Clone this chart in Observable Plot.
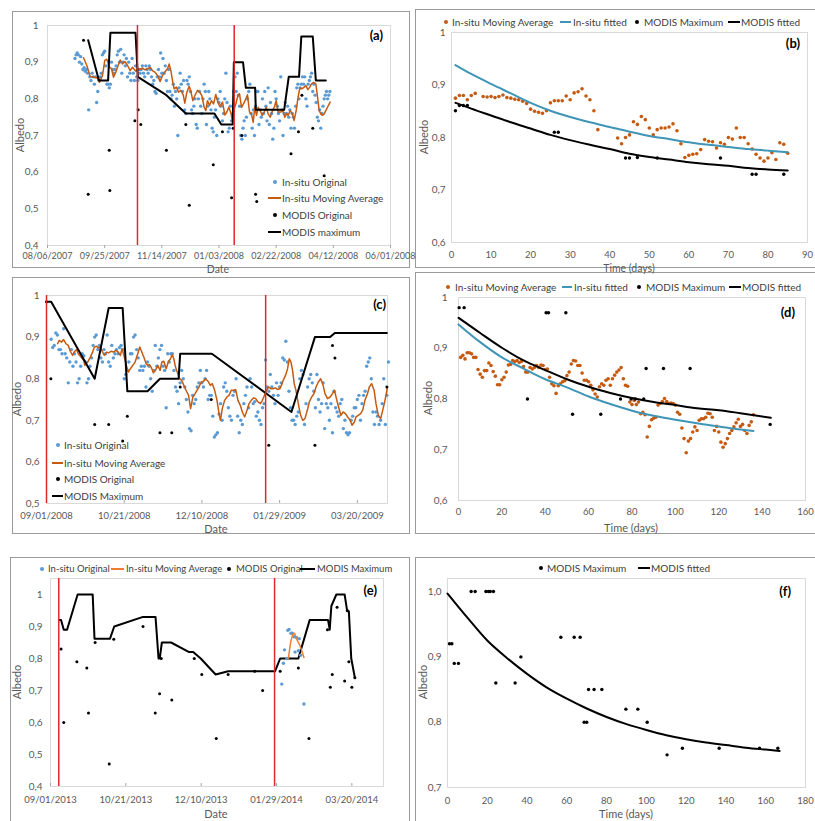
<!DOCTYPE html>
<html>
<head>
<meta charset="utf-8">
<script src="https://cdn.jsdelivr.net/npm/d3@7"></script>
<script src="https://cdn.jsdelivr.net/npm/@observablehq/plot@0.6"></script>
<style>
html,body{margin:0;padding:0;background:#fff;}
#root{position:relative;width:815px;height:821px;overflow:hidden;background:#fff;font-family:Lato,"Open Sans",sans-serif;}
.box{position:absolute;border:1px solid #9a9a9a;box-sizing:border-box;}
.abs{position:absolute;white-space:nowrap;}
.lt{font-size:10px;color:#404040;line-height:12px;transform:translateY(-50%);}
.tag{font-size:13px;font-weight:bold;color:#000;line-height:14px;transform:translate(-100%,-50%);}
.mdot{width:4px;height:4px;border-radius:50%;transform:translate(-50%,-50%);}
.mline{height:2px;transform:translateY(-50%);}
.ttl{font-size:11px;color:#595959;line-height:11px;transform:translate(-50%,-50%);}
.ttlv{font-size:11px;color:#595959;line-height:12px;transform:translate(-50%,-50%) rotate(-90deg);}
</style>
</head>
<body>
<div id="root"></div>
<script>
// ---------------- DATA ----------------
// Panel (a): 2007-2008 season, x in days after 08/06/2007
const aStart = "08/06/2007";
const aXTicks = ["08/06/2007","09/25/2007","11/14/2007","01/03/2008","02/22/2008","04/12/2008","06/01/2008"];
const aYTicks = [0.4,0.5,0.6,0.7,0.8,0.9,1];
const aRedDays = [78.7, 163.3];
const aInsituFirstDay = 24;
const aInsitu = [
.91,.92,.925,.92,.90,.915,.895,.88,.885,.875,
.88,.87,.77,.86,.85,.87,.86,.84,.86,.79,
.82,.85,.86,.87,.92,.925,.93,.89,.84,.84,
.83,.84,.90,.88,.87,.88,.89,.92,.93,.90,
.935,.87,.90,.92,.89,.91,.86,.90,.87,.85,
.91,.87,.85,.89,.86,.85,.88,.87,.88,.89,
.87,.86,.89,.88,.87,.89,.88,.86,.84,.85,
.82,.815,.86,.88,.86,.925,.87,.91,.87,.89,
.85,.82,.88,.82,.80,.81,.84,.78,.82,.80,
.70,.83,.87,.84,.82,.85,.77,.76,.85,.84,
.86,.82,.77,.76,.78,.80,.73,.72,.80,.82,
.78,.76,.80,.84,.82,.73,.78,.82,.80,.77,
.72,.71,.75,.77,.70,.80,.79,.82,.78,.74,
.76,.80,.87,.79,.71,.72,.78,.74,.76,.82,
.86,.82,.87,.81,.78,.70,.69,.72,.74,.70,
.75,.80,.82,.84,.76,.72,.77,.70,.78,.82,
.82,.73,.77,.75,.80,.76,.82,.78,.74,.83,
.73,.79,.76,.69,.72,.82,.80,.78,.76,.74,
.86,.77,.70,.76,.79,.76,.78,.75,.77,.72,
.76,.75,.72,.78,.83,.84,.80,.83,.84,.86,
.84,.86,.80,.78,.84,.85,.86,.87,.82,.84,
.81,.79,.75,.74,.77,.72,.76,.78,.80,.81,
.82,.80,.81,.82];
const aMovingAvg = [[31.5,.912],[34.4,.891],[37.3,.861],[40.8,.859],[43.7,.857],[45.5,.845],[48.1,.864],[50.1,.905],[51.9,.908],[53.9,.888],[56,.882],[57.7,.859],[59.8,.873],[61.2,.886],[63.6,.906],[65.6,.895],[67.6,.902],[70,.891],[72.3,.877],[74.3,.886],[77.3,.875],[79.3,.882],[81,.88],[83.1,.884],[85.1,.879],[87.5,.882],[89.8,.886],[91.8,.877],[93.9,.873],[96.2,.864],[98.5,.847],[100.6,.864],[102.6,.873],[105,.882],[106.4,.895],[107.9,.877],[109.6,.845],[110.8,.827],[112.8,.832],[114.6,.818],[116.6,.823],[118.7,.811],[120.1,.788],[121.9,.818],[123.9,.834],[125.4,.821],[127.1,.795],[128.9,.809],[131.2,.823],[133.2,.818],[135,.809],[137,.777],[138.5,.768],[139.9,.795],[141.7,.782],[143.4,.795],[145.2,.786],[147.2,.812],[149,.791],[150.7,.779],[153.1,.791],[155.1,.756],[156.9,.764],[158.6,.777],[160.3,.762],[161.8,.741],[163.3,.773],[164.7,.786],[166.2,.805],[167.9,.814],[169.7,.777],[171.4,.786],[173.5,.80],[174.9,.811],[176.7,.764],[178.4,.759],[179.9,.736],[181.3,.777],[182.8,.755],[184.3,.777],[186,.768],[187.8,.755],[189.5,.764],[191.3,.777],[193,.759],[194.8,.75],[196.8,.768],[198.3,.777],[200,.795],[201.7,.764],[204.1,.764],[205.8,.768],[207.6,.75],[209,.759],[210.5,.755],[212.2,.768],[214.3,.759],[215.7,.741],[217.5,.768],[219.2,.805],[220.7,.83],[222.4,.827],[224.5,.832],[226,.836],[227.7,.825],[229.4,.832],[230.9,.841],[232.7,.845],[234.7,.841],[236.2,.805],[237.6,.768],[239.1,.759],[240.5,.755],[242,.759],[243.4,.768],[244.9,.777],[247.2,.791]];
const aModisOriginal = [[31.5,.96],[35.6,.54],[54,.66],[54.5,.55],[76.4,.74],[79.3,.77],[81.6,.73],[104,.66],[121,.73],[124,.51],[145,.62],[153,.71],[161,.53],[162.4,.72],[170,.70],[182,.54],[183,.52],[213,.65],[219.5,.71],[222.5,.81],[232,.72],[242,.59]];
const aModisMax = [[35.6,.96],[45,.85],[53,.85],[55,.98],[77,.98],[79,.86],[104,.81],[121,.76],[146,.76],[152,.73],[162,.73],[163,.90],[171,.90],[173.5,.83],[181.6,.83],[182.2,.77],[207,.77],[211,.86],[220,.86],[222,.97],[232,.97],[234.7,.85],[243.4,.85]];

// Panel (b): days after first red line, 2007-2008
const bXTicks = [0,10,20,30,40,50,60,70,80,90];
const bYTicks = [0.6,0.7,0.8,0.9,1];
const bMovingAvg = [[1,.875],[2,.880],[3,.880],[4,.872],[5,.880],[6,.884],[8,.878],[9,.877],[10,.878],[11,.876],[12,.878],[13,.881],[14,.876],[15,.875],[16,.873],[17,.872],[18,.869],[19,.865],[20,.854],[21,.850],[22,.848],[23,.846],[24,.851],[25,.866],[26,.870],[27,.870],[28,.870],[29,.879],[30,.872],[31,.885],[32,.887],[33,.893],[34,.879],[35,.872],[36,.851],[37,.815],[42,.799],[43,.788],[44,.800],[45,.805],[46,.830],[47,.825],[48,.840],[49,.834],[50,.818],[51,.805],[52,.815],[53,.818],[54,.818],[55,.820],[56,.826],[57,.813],[58,.788],[59,.762],[60,.766],[61,.768],[62,.769],[63,.777],[64,.796],[65,.793],[66,.792],[67,.780],[68,.790],[69,.787],[70,.800],[71,.797],[72,.818],[73,.800],[74,.800],[75,.788],[76,.778],[77,.768],[78,.761],[79,.755],[80,.761],[81,.771],[82,.758],[83,.790],[84,.787],[85,.770]];
const bInsituFit = [[1,.938],[5,.921],[10,.902],[15,.884],[20,.866],[25,.851],[30,.839],[35,.829],[40,.82],[45,.811],[50,.803],[55,.797],[60,.791],[65,.786],[70,.782],[75,.778],[80,.775],[85,.772]];
const bModisMax = [[1,.851],[2,.861],[3,.861],[4,.861],[26,.81],[27,.81],[44,.761],[45,.761],[47,.762],[52,.761],[68,.761],[76,.73],[77,.73],[84,.73]];
const bModisFit = [[1,.866],[5,.855],[10,.842],[15,.829],[20,.817],[25,.805],[30,.795],[35,.786],[40,.778],[45,.769],[50,.763],[55,.758],[60,.753],[65,.749],[70,.746],[75,.742],[80,.739],[85,.737]];

// Panel (c): 2008-2009 season, x in days after 09/01/2008
const cStart = "09/01/2008";
const cXTicks = ["09/01/2008","10/21/2008","12/10/2008","01/29/2009","03/20/2009"];
const cEndDay = 219.4;
const cYTicks = [0.5,0.6,0.7,0.8,0.9,1];
const cRedDays = [0, 141];
const cInsituFirstDay = 3;
const cInsitu = [
.895,.875,.88,.91,.905,.87,.87,.86,.92,.86,.85,.79,.84,
.87,.83,.86,.84,.79,.80,.83,.86,.855,.84,.79,.80,.83,.85,.88,
.90,.905,.87,.88,.85,.84,.87,.86,.905,.84,.83,.88,.85,.86,.87,
.86,.875,.88,.87,.80,.81,.82,.84,.86,.86,.90,.905,.87,.85,.82,
.83,.82,.83,.78,.84,.83,.80,.77,.82,.88,.83,.85,.87,.88,.83,
.82,.73,.86,.84,.86,.86,.82,.78,.77,.74,.79,.82,.80,.78,.75,
.72,.68,.675,.76,.74,.75,.78,.79,.82,.79,.78,.80,.82,.75,.76,
.76,.71,.66,.665,.67,.715,.74,.70,.78,.79,.77,.73,.71,.70,.76,
.77,.80,.71,.67,.70,.69,.74,.76,.78,.73,.80,.78,.74,.745,.71,
.72,.70,.69,.73,.74,.845,.78,.77,.81,.78,.76,.74,.79,.76,.78,
.79,.85,.845,.89,.84,.77,.73,.70,.70,.69,.71,.72,.80,.82,.81,
.69,.74,.78,.80,.81,.79,.77,.73,.81,.75,.72,.74,.79,.68,.74,
.73,.70,.74,.67,.77,.73,.72,.71,.74,.75,.68,.70,.67,.665,.67,
.70,.71,.73,.73,.75,.76,.70,.74,.76,.77,.83,.84,.85,.80,.72,
.69,.72,.71,.69,.70,.74,.80,.69,.76,.84];
const cMovingAvg = [[7.1,.884],[8.2,.892],[9.7,.888],[11,.894],[12.5,.884],[14,.88],[15.3,.866],[16.8,.856],[17.8,.864],[19.4,.87],[20.4,.86],[22.2,.852],[23.9,.844],[24.7,.832],[26.5,.84],[28.2,.852],[29.7,.864],[30.8,.876],[32.3,.878],[33.3,.874],[34.6,.876],[36.1,.864],[37.2,.856],[38.7,.864],[40,.862],[41.5,.866],[43,.864],[44.7,.868],[46.2,.864],[47.5,.856],[48.6,.872],[50.1,.852],[51.4,.832],[52.7,.816],[54,.824],[55.5,.832],[57,.84],[58.7,.86],[60,.876],[61.3,.864],[62.6,.852],[64.1,.836],[65.2,.832],[66.2,.834],[67.3,.828],[68.8,.814],[70.1,.82],[71.6,.832],[73.1,.82],[74.2,.84],[75.5,.842],[77,.824],[78.5,.842],[79.8,.848],[80.9,.858],[81.9,.848],[83,.828],[84.1,.816],[85.6,.80],[87,.796],[88.8,.78],[90.3,.768],[91.4,.76],[92.7,.728],[94.2,.756],[95.3,.762],[96.8,.772],[98.1,.78],[99.6,.792],[101.1,.794],[102.4,.80],[103.9,.794],[105.4,.784],[106.7,.788],[108.2,.772],[109.7,.748],[111,.716],[111.9,.70],[113.1,.728],[114.6,.748],[116.1,.756],[117.4,.76],[118.9,.772],[120.4,.772],[121.7,.774],[123.2,.748],[124.7,.736],[126,.72],[127.5,.708],[129,.724],[130.3,.74],[131.8,.748],[133.3,.754],[134.6,.752],[136.1,.744],[137.6,.74],[138.9,.748],[140,.758],[141.5,.772],[143,.78],[144.3,.776],[145.8,.776],[147.3,.778],[148.6,.774],[150.1,.776],[151.2,.784],[152.3,.796],[153.8,.808],[155.1,.824],[156.2,.848],[157.3,.84],[158.3,.82],[159.4,.788],[160.5,.772],[162,.74],[163.5,.712],[164.8,.70],[166.3,.704],[167.8,.724],[169.1,.744],[170.6,.756],[172.1,.764],[173.4,.78],[174.9,.792],[176.4,.80],[177.7,.788],[179.2,.764],[180.8,.752],[182.5,.756],[184,.764],[185.3,.772],[186.8,.748],[187.9,.732],[189.4,.712],[190.8,.72],[192.3,.716],[193.8,.708],[195.1,.702],[196.6,.688],[198.1,.696],[199.1,.708],[200.6,.712],[202.1,.716],[203.4,.724],[204.9,.748],[206.5,.764],[207.7,.78],[209.2,.788],[210.8,.772],[212,.74],[213.5,.712],[215,.704],[216.3,.724],[217.8,.748],[219.4,.78]];
const cModisOriginal = [[0,.985],[2.8,.80],[31,.69],[40,.69],[49,.65],[52,.71],[73,.67],[80.6,.67],[86,.78],[106,.75],[143,.64],[172.7,.64],[184,.88],[185.6,.85],[219,.78]];
const cModisMax = [[0,.985],[3,.985],[31,.80],[40,.97],[49,.97],[52,.77],[65,.77],[73,.80],[85,.80],[86,.86],[106.4,.86],[157.6,.72],[172.7,.90],[182.5,.90],[185.5,.91],[219,.91]];

// Panel (d): days after first red line, 2008-2009
const dXTicks = [0,20,40,60,80,100,120,140,160];
const dYTicks = [0.6,0.7,0.8,0.9,1];
const dMovingAvgFirstDay = 1;
const dMovingAvg = [
.882,.886,.879,.891,.891,.889,.882,.882,.858,.849,
.843,.856,.856,.871,.866,.854,.845,.828,.828,.838,
.843,.853,.867,.868,.876,.874,.876,.872,.874,.864,
.853,.853,.862,.859,.862,.866,.862,.867,.866,.858,
.859,.843,.83,.826,.811,.826,.83,.834,.836,.846,
.853,.869,.876,.875,.866,.866,.851,.837,.837,.834,
.827,.818,.81,.804,.824,.83,.827,.837,.84,.827,
.84,.847,.853,.857,.862,.84,.827,.825,.794,.789,
.797,.789,.794,.771,.774,.769,.725,.746,.759,.762,
.764,.788,.791,.795,.801,.795,.791,.792,.791,.788,
.774,.770,.743,.722,.694,.717,.722,.735,.745,.738,
.758,.761,.761,.764,.772,.771,.764,.738,.746,.735,
.715,.705,.712,.722,.732,.738,.745,.753,.760,.746,
.75,.738,.732,.748,.755,.769];
const dInsituFit = [[0,.947],[10,.912],[20,.882],[30,.86],[40,.839],[50,.823],[60,.805],[70,.79],[80,.777],[90,.767],[100,.759],[110,.752],[120,.746],[130,.74],[136,.737]];
const dModisMax = [[0.3,.98],[2.6,.98],[31.8,.80],[40.4,.97],[41.5,.97],[49.5,.97],[52.6,.77],[65.6,.77],[74.7,.80],[79.6,.80],[81.5,.80],[85.4,.80],[86.5,.86],[94.5,.86],[106.8,.86],[143.7,.75]];
const dModisFit = [[0,.96],[10,.93],[20,.901],[30,.876],[40,.857],[50,.839],[60,.824],[70,.812],[80,.802],[90,.794],[100,.788],[110,.782],[120,.778],[130,.772],[144,.763]];

// Panel (e): 2013-2014 season, x in days after 09/01/2013
const eStart = "09/01/2013";
const eXTicks = ["09/01/2013","10/21/2013","12/10/2013","01/29/2014","03/20/2014"];
const eEndDay = 221;
const eYTicks = [0.4,0.5,0.6,0.7,0.8,0.9,1];
const eRedDays = [5.5, 148.7];
const eInsitu = [[153.5,.72],[154.6,.785],[155.3,.827],[156.8,.80],[157.5,.888],[158.3,.891],[159.6,.879],[160.5,.879],[161.6,.868],[162.3,.82],[163.4,.865],[164.5,.824],[165.1,.862],[166,.81],[168.2,.658]];
const eMovingAvg = [[157.9,.80],[159.6,.855],[161.8,.879],[163.4,.86],[165.6,.84],[168.2,.803]];
const eModisOriginal = [[7,.83],[8.8,.60],[17.5,.79],[24.1,.77],[25.2,.63],[29.6,.85],[39,.47],[42,.86],[61.4,.90],[69.5,.63],[72.4,.69],[73.5,.80],[80.5,.67],[95.4,.80],[100.4,.75],[110,.55],[117.9,.75],[135.5,.76],[140.8,.70],[152.4,.76],[164.5,.77],[171.5,.55],[183.8,.89],[185.7,.71],[187,.75],[190.2,.96],[195.2,.73],[197,.95],[198,.79],[200,.71],[202,.74]];
const eModisMax = [[5.5,.92],[7,.92],[8.8,.89],[11,.89],[18,1],[28,1],[29.2,.862],[39.5,.862],[42.3,.90],[61.4,.93],[69.7,.93],[71.7,.80],[72.5,.80],[73.9,.85],[80,.85],[92,.82],[94.7,.82],[99.7,.80],[109.6,.75],[117.9,.76],[149,.76],[152.4,.80],[164.5,.80],[172,.92],[184.2,.92],[185.3,.89],[186.4,.964],[189.7,1],[195.2,1],[196.9,.948],[198,.948],[199.6,.80],[202,.74]];

// Panel (f): days after first red line, 2013-2014
const fXTicks = [0,20,40,60,80,100,120,140,160,180];
const fYTicks = [0.7,0.8,0.9,1.0];
const fModisMax = [[1,.92],[2.2,.92],[3.4,.89],[5.5,.89],[11.9,1],[13.9,1],[19.3,1],[20.6,1],[21.5,1],[23.1,1],[24.3,.86],[34,.86],[36.9,.90],[57,.93],[63.7,.93],[66.7,.93],[68.7,.80],[70,.80],[70.9,.85],[73.7,.85],[77.6,.85],[89.7,.82],[95.7,.82],[100.4,.80],[110.4,.75],[118.1,.76],[136.6,.76],[156.9,.76],[166.1,.76]];
const fModisFit = [[0,.997],[10,.96],[20,.925],[30,.898],[40,.874],[50,.853],[60,.836],[70,.821],[80,.808],[90,.797],[100,.788],[110,.78],[120,.774],[130,.769],[140,.765],[150,.761],[160,.758],[167,.756]];

// ---------------- RENDER ----------------
const root = document.getElementById("root");
const DAY = 864e5;
const parseMDY = d3.utcParse("%m/%d/%Y");
const fmtMDY = d3.utcFormat("%m/%d/%Y");
const fmtY = v => Math.abs(v - 1) < 1e-9 ? "1" : v.toFixed(1).replace(".", ",");
const fmtY1 = v => v.toFixed(1).replace(".", ",");
const fmtInt = d3.format("d");
const dayFn = start => { const t0 = parseMDY(start).getTime(); return d => new Date(t0 + d * DAY); };
const C = {blue:"#5b9bd5", ma:"#c55a11", maE:"#ed7d31", black:"#000", red:"#e3262b", teal:"#3f95b6", frame:"#d9d9d9", text:"#595959"};
const baseStyle = {fontFamily:"Lato, 'Open Sans', sans-serif", background:"transparent", overflow:"visible", color:C.text};

function axes(o) {
  return [
    Plot.frame({stroke: C.frame}),
    Plot.axisX({ticks:o.xTicks, tickFormat:o.xFmt, tickSize:o.xTs, tickPadding:o.xTp, stroke:"#a6a6a6", fill:C.text, fontSize:o.xFs ?? 9.5, label:null}),
    Plot.axisY({ticks:o.yTicks, tickFormat:o.yFmt, tickSize:0, tickPadding:o.yTp, fill:C.text, fontSize:10, label:null})
  ];
}
function box(l, t, w, h) {
  const d = document.createElement("div"); d.className = "box";
  Object.assign(d.style, {left:l+"px", top:t+"px", width:w+"px", height:h+"px"}); root.appendChild(d);
}
function put(svg, l, t) {
  Object.assign(svg.style, {position:"absolute", left:l+"px", top:t+"px"}); root.appendChild(svg);
}
function div(cls, l, t, text, extra) {
  const d = document.createElement("div"); d.className = "abs " + cls;
  d.style.left = l + "px"; d.style.top = t + "px";
  if (text) d.textContent = text;
  if (extra) Object.assign(d.style, extra);
  root.appendChild(d); return d;
}
function legend(items, fs) {
  for (const it of items) {
    if (it.k === "dot") div("mdot", it.m, it.y, "", {background: it.c});
    else div("mline", it.m, it.y, "", {background: it.c, width: (it.m2 - it.m) + "px"});
    div("lt", it.t, it.y, it.label, fs ? {fontSize: fs + "px"} : null);
  }
}

// panel boxes
box(12, 11, 398, 257);
box(415, 9, 402, 259);
box(12, 277, 398, 257);
box(415, 272, 402, 262);
box(10, 557, 400, 270);
box(415, 557, 402, 270);

// (a)
const ta = dayFn(aStart);
put(Plot.plot({
  width:398, height:257, marginLeft:35, marginRight:20, marginTop:14, marginBottom:23, style:baseStyle,
  x:{type:"utc", domain:[parseMDY(aXTicks[0]), parseMDY(aXTicks[aXTicks.length-1])]},
  y:{domain:[0.4,1]},
  marks:[
    ...axes({xTicks:aXTicks.map(parseMDY), xFmt:fmtMDY, xTs:3, xTp:4.5, xFs:9, yTicks:aYTicks, yFmt:fmtY, yTp:9}),
    Plot.dot(aInsitu, {x:(v,i) => ta(aInsituFirstDay + i), y:v => v, r:1.7, fill:C.blue}),
    Plot.line(aMovingAvg, {x:d => ta(d[0]), y:d => d[1], stroke:C.ma, strokeWidth:1.5}),
    Plot.dot(aModisOriginal, {x:d => ta(d[0]), y:d => d[1], r:1.5, fill:C.black}),
    Plot.line(aModisMax, {x:d => ta(d[0]), y:d => d[1], stroke:C.black, strokeWidth:2}),
    Plot.ruleX(aRedDays, {x:d => ta(d), stroke:C.red, strokeWidth:1.5})
  ]
}), 12, 11);

// (b)
put(Plot.plot({
  width:400, height:259, marginLeft:36, marginRight:8, marginTop:23, marginBottom:26, style:baseStyle,
  x:{domain:[0,90]}, y:{domain:[0.6,1]},
  marks:[
    ...axes({xTicks:bXTicks, xFmt:fmtInt, xTs:0, xTp:9, yTicks:bYTicks, yFmt:fmtY, yTp:6}),
    Plot.dot(bMovingAvg, {x:d => d[0], y:d => d[1], r:1.8, fill:C.ma}),
    Plot.line(bInsituFit, {x:d => d[0], y:d => d[1], stroke:C.teal, strokeWidth:2, curve:"monotone-x"}),
    Plot.dot(bModisMax, {x:d => d[0], y:d => d[1], r:1.7, fill:C.black}),
    Plot.line(bModisFit, {x:d => d[0], y:d => d[1], stroke:C.black, strokeWidth:2, curve:"monotone-x"})
  ]
}), 415, 9);

// (c)
const tc = dayFn(cStart);
put(Plot.plot({
  width:398, height:257, marginLeft:34, marginRight:23, marginTop:18, marginBottom:31, style:baseStyle,
  x:{type:"utc", domain:[parseMDY(cXTicks[0]), tc(cEndDay)]},
  y:{domain:[0.5,1]},
  marks:[
    ...axes({xTicks:cXTicks.map(parseMDY), xFmt:fmtMDY, xTs:-3, xTp:12, yTicks:cYTicks, yFmt:fmtY, yTp:7}),
    Plot.dot(cInsitu, {x:(v,i) => tc(cInsituFirstDay + i), y:v => v, r:1.7, fill:C.blue}),
    Plot.line(cMovingAvg, {x:d => tc(d[0]), y:d => d[1], stroke:C.ma, strokeWidth:1.5}),
    Plot.dot(cModisOriginal, {x:d => tc(d[0]), y:d => d[1], r:1.5, fill:C.black}),
    Plot.line(cModisMax, {x:d => tc(d[0]), y:d => d[1], stroke:C.black, strokeWidth:2}),
    Plot.ruleX(cRedDays, {x:d => tc(d), stroke:C.red, strokeWidth:1.5})
  ]
}), 12, 277);

// (d)
put(Plot.plot({
  width:400, height:262, marginLeft:43, marginRight:10, marginTop:25, marginBottom:34, style:baseStyle,
  x:{domain:[0,160]}, y:{domain:[0.6,1]},
  marks:[
    ...axes({xTicks:dXTicks, xFmt:fmtInt, xTs:0, xTp:8, yTicks:dYTicks, yFmt:fmtY, yTp:11}),
    Plot.dot(dMovingAvg, {x:(v,i) => dMovingAvgFirstDay + i, y:v => v, r:1.8, fill:C.ma}),
    Plot.line(dInsituFit, {x:d => d[0], y:d => d[1], stroke:C.teal, strokeWidth:2, curve:"monotone-x"}),
    Plot.dot(dModisMax, {x:d => d[0], y:d => d[1], r:1.7, fill:C.black}),
    Plot.line(dModisFit, {x:d => d[0], y:d => d[1], stroke:C.black, strokeWidth:2, curve:"monotone-x"})
  ]
}), 415, 272);

// (e)
const te = dayFn(eStart);
put(Plot.plot({
  width:400, height:264, marginLeft:40, marginRight:27, marginTop:21, marginBottom:35, style:baseStyle,
  x:{type:"utc", domain:[parseMDY(eXTicks[0]), te(eEndDay)]},
  y:{domain:[0.4,1.05]},
  marks:[
    ...axes({xTicks:eXTicks.map(parseMDY), xFmt:fmtMDY, xTs:-3, xTp:13, yTicks:eYTicks, yFmt:fmtY, yTp:8}),
    Plot.line(eModisMax, {x:d => te(d[0]), y:d => d[1], stroke:C.black, strokeWidth:2}),
    Plot.dot(eModisOriginal, {x:d => te(d[0]), y:d => d[1], r:1.5, fill:C.black}),
    Plot.dot(eInsitu, {x:d => te(d[0]), y:d => d[1], r:1.7, fill:C.blue}),
    Plot.line(eMovingAvg, {x:d => te(d[0]), y:d => d[1], stroke:C.maE, strokeWidth:1.5, curve:"monotone-x"}),
    Plot.ruleX(eRedDays, {x:d => te(d), stroke:C.red, strokeWidth:1.5})
  ]
}), 10, 557);

// (f)
put(Plot.plot({
  width:400, height:264, marginLeft:32, marginRight:10, marginTop:21, marginBottom:34, style:baseStyle,
  x:{domain:[0,180]}, y:{domain:[0.7,1.02]},
  marks:[
    ...axes({xTicks:fXTicks, xFmt:fmtInt, xTs:0, xTp:10, yTicks:fYTicks, yFmt:fmtY1, yTp:6}),
    Plot.dot(fModisMax, {x:d => d[0], y:d => d[1], r:1.7, fill:C.black}),
    Plot.line(fModisFit, {x:d => d[0], y:d => d[1], stroke:C.black, strokeWidth:2, curve:"monotone-x"})
  ]
}), 415, 557);

// axis titles
div("ttl", 218, 269, "Date", {fontSize:"10.5px"});
div("ttlv", 20, 135, "Albedo");
div("ttl", 629, 268, "Time (days)", {fontSize:"10.5px"});
div("ttlv", 424, 137, "Albedo");
div("ttl", 216, 528, "Date");
div("ttlv", 17, 399, "Albedo");
div("ttl", 631, 527, "Time (days)");
div("ttlv", 428, 398, "Albedo");
div("ttl", 216, 813, "Date");
div("ttlv", 17, 682, "Albedo");
div("ttl", 626, 813, "Time (days)");
div("ttlv", 423, 682, "Albedo");

// legends
legend([
  {k:"dot", c:C.blue, m:275, t:282, y:182, label:"In-situ Original"},
  {k:"line", c:C.ma, m:268, m2:281, t:282, y:198, label:"In-situ Moving Average"},
  {k:"dot", c:C.black, m:275, t:282, y:215, label:"MODIS Original"},
  {k:"line", c:C.black, m:268, m2:281, t:282, y:232, label:"MODIS maximum"}
]);
legend([
  {k:"dot", c:C.ma, m:446, t:452, y:22, label:"In-situ Moving Average"},
  {k:"line", c:C.teal, m:560, m2:571, t:573, y:22, label:"In-situ fitted"},
  {k:"dot", c:C.black, m:637, t:644, y:22, label:"MODIS Maximum"},
  {k:"line", c:C.black, m:728, m2:740, t:741, y:22, label:"MODIS fitted"}
]);
legend([
  {k:"dot", c:C.blue, m:58, t:64, y:445, label:"In-situ Original"},
  {k:"line", c:C.ma, m:52, m2:63, t:64, y:463, label:"In-situ Moving Average"},
  {k:"dot", c:C.black, m:58, t:64, y:479, label:"MODIS Original"},
  {k:"line", c:C.black, m:52, m2:63, t:64, y:496, label:"MODIS Maximum"}
]);
legend([
  {k:"dot", c:C.ma, m:448, t:455, y:287, label:"In-situ Moving Average"},
  {k:"line", c:C.teal, m:562, m2:572, t:574, y:287, label:"In-situ fitted"},
  {k:"dot", c:C.black, m:639, t:646, y:287, label:"MODIS Maximum"},
  {k:"line", c:C.black, m:729, m2:741, t:742, y:287, label:"MODIS fitted"}
]);
legend([
  {k:"dot", c:C.blue, m:42, t:48, y:569, label:"In-situ Original"},
  {k:"line", c:C.maE, m:111, m2:124, t:126, y:569, label:"In-situ Moving Average"},
  {k:"dot", c:C.black, m:229, t:236, y:569, label:"MODIS Original"},
  {k:"line", c:C.black, m:300, m2:315, t:317, y:569, label:"MODIS Maximum"}
], 9.5);
legend([
  {k:"dot", c:C.black, m:541, t:547, y:568, label:"MODIS Maximum"},
  {k:"line", c:C.black, m:638, m2:650, t:651, y:568, label:"MODIS fitted"}
]);

// panel tags
div("tag", 383, 35, "(a)");
div("tag", 800, 43, "(b)");
div("tag", 386, 304, "(c)");
div("tag", 795, 312, "(d)");
div("tag", 377, 590, "(e)");
div("tag", 791, 591, "(f)");
</script>
</body>
</html>
